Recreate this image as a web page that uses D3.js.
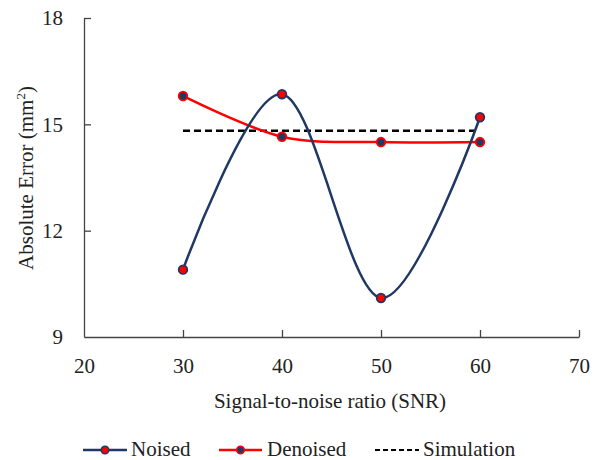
<!DOCTYPE html>
<html><head><meta charset="utf-8">
<script src="https://cdn.jsdelivr.net/npm/d3@7"></script>
<style>body{margin:0;background:#fff}svg{display:block}text{font-family:"Liberation Serif","DejaVu Serif",serif;fill:#222}</style>
</head><body><div id="chart"></div>
<script>
const snr = [30, 40, 50, 60];
const noised = [10.9, 15.85, 10.1, 15.2];
const denoised = [15.8, 14.65, 14.5, 14.5];
const simulation = [14.82, 14.82, 14.82, 14.82];
const xTicks = [20, 30, 40, 50, 60, 70];
const yTicks = [9, 12, 15, 18];

const W = 601, H = 460;
const navy = "#1f3864", red = "#ff0000";
const FS = "21px";
const svg = d3.select("#chart").append("svg").attr("width", W).attr("height", H);
const x = d3.scaleLinear().domain([20, 70]).range([84, 579]);
const y = d3.scaleLinear().domain([9, 18]).range([337, 18]);

// axes
const xAxis = d3.axisBottom(x).tickValues(xTicks).tickSizeInner(-7).tickSizeOuter(0).tickPadding(21);
const gx = svg.append("g").attr("transform", `translate(0,${y(9)})`).call(xAxis);
const yAxis = d3.axisLeft(y).tickValues(yTicks).tickSizeInner(-7).tickSizeOuter(0).tickPadding(21);
const gy = svg.append("g").attr("transform", `translate(${x(20)},0)`).call(yAxis);
[gx, gy].forEach(g => {
  g.select(".domain").attr("stroke", "#444").attr("stroke-width", 1.3);
  g.selectAll(".tick line").attr("stroke", "#444").attr("stroke-width", 1.3);
  g.selectAll(".tick text").style("font-size", FS).attr("fill", "#222");
});
gy.selectAll(".tick").filter(d => d === 9).select("line").remove();
gx.selectAll(".tick").filter(d => d === 20).select("line").remove();

// axis titles
svg.append("text").attr("x", 330).attr("y", 408).attr("text-anchor", "middle")
  .style("font-size", FS).text("Signal-to-noise ratio (SNR)");
const yl = svg.append("text").attr("transform", `translate(33,178) rotate(-90)`).attr("text-anchor", "middle")
  .style("font-size", FS);
yl.append("tspan").text("Absolute Error (mm");
yl.append("tspan").attr("dy", -8).style("font-size", "13px").text("2");
yl.append("tspan").attr("dy", 8).text(")");

// lines
const smooth = d3.line().x((d, i) => x(snr[i])).y(d => y(d)).curve(d3.curveCardinal.tension(0));
svg.append("path").datum(simulation)
  .attr("d", d3.line().x((d, i) => x(snr[i])).y(d => y(d)))
  .attr("fill", "none").attr("stroke", "#000").attr("stroke-width", 2.5).attr("stroke-dasharray", "7,4");
svg.append("path").datum(denoised).attr("d", smooth).attr("fill", "none").attr("stroke", red).attr("stroke-width", 2.5);
svg.append("path").datum(noised).attr("d", smooth).attr("fill", "none").attr("stroke", navy).attr("stroke-width", 2.5);

svg.append("g").selectAll("circle").data(denoised).join("circle")
  .attr("cx", (d, i) => x(snr[i])).attr("cy", d => y(d)).attr("r", 4.3)
  .attr("fill", navy).attr("stroke", red).attr("stroke-width", 1.8);
svg.append("g").selectAll("circle").data(noised).join("circle")
  .attr("cx", (d, i) => x(snr[i])).attr("cy", d => y(d)).attr("r", 4.3)
  .attr("fill", red).attr("stroke", navy).attr("stroke-width", 1.8);

// legend
const legend = [
  {name: "Noised", line: navy, fill: red, x0: 83, x1: 127, tx: 131},
  {name: "Denoised", line: red, fill: navy, x0: 219, x1: 262, tx: 267},
  {name: "Simulation", line: "#000", fill: null, x0: 375, x1: 419, tx: 423}
];
const ly = 450;
legend.forEach(l => {
  svg.append("line").attr("x1", l.x0).attr("x2", l.x1).attr("y1", ly).attr("y2", ly)
    .attr("stroke", l.line).attr("stroke-width", l.fill ? 2.5 : 2)
    .attr("stroke-dasharray", l.fill ? null : "5,3");
  if (l.fill) svg.append("circle").attr("cx", (l.x0 + l.x1) / 2).attr("cy", ly).attr("r", 3.8)
    .attr("fill", l.fill).attr("stroke", l.line).attr("stroke-width", 1.5);
  svg.append("text").attr("x", l.tx).attr("y", 456).style("font-size", FS).text(l.name);
});
</script></body></html>
